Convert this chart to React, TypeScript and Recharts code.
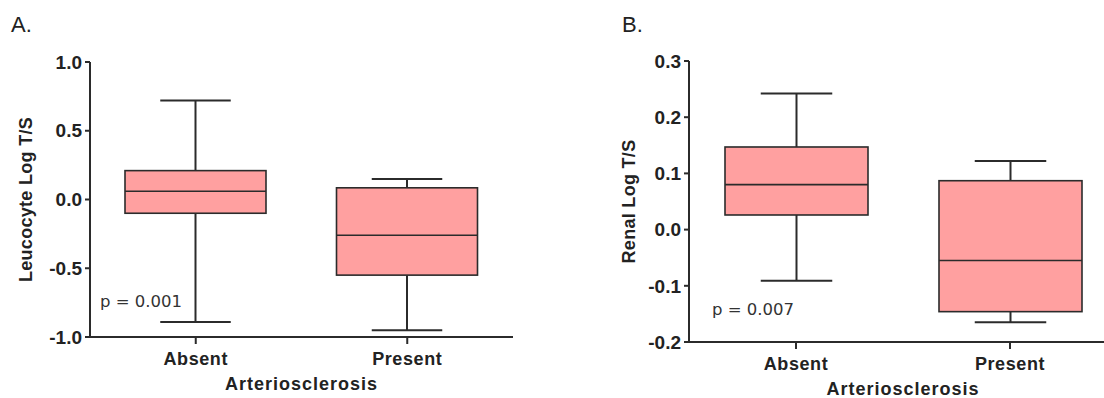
import { ComposedChart, Bar, XAxis, YAxis } from "recharts";

// five-number summaries
const groups = ["Absent", "Present"];

const leucoMin = [-0.89, -0.95];
const leucoQ1 = [-0.1, -0.55];
const leucoMedian = [0.06, -0.26];
const leucoQ3 = [0.21, 0.085];
const leucoMax = [0.72, 0.15];
const leucoTicks = [-1, -0.5, 0, 0.5, 1];

const renalMin = [-0.091, -0.165];
const renalQ1 = [0.026, -0.146];
const renalMedian = [0.08, -0.055];
const renalQ3 = [0.147, 0.087];
const renalMax = [0.242, 0.122];
const renalTicks = [-0.2, -0.1, 0, 0.1, 0.2, 0.3];

const FILL = "#FFA0A0";
const INK = "#2b2b2b";
const FONT = "'Liberation Sans', Arial, sans-serif";

function buildRows(mins: number[], q1: number[], med: number[], q3: number[], maxs: number[]) {
  return groups.map((name, i) => ({
    name,
    box: [q1[i], q3[i]],
    min: mins[i],
    q1: q1[i],
    median: med[i],
    q3: q3[i],
    max: maxs[i],
  }));
}

const leucoRows = buildRows(leucoMin, leucoQ1, leucoMedian, leucoQ3, leucoMax);
const renalRows = buildRows(renalMin, renalQ1, renalMedian, renalQ3, renalMax);

// box + median + whiskers, scaled from the bar geometry recharts gives us
const BoxShape = (props: any) => {
  const { x, y, width, height, payload } = props;
  const top = Math.min(y, y + height);
  const h = Math.abs(height);
  const span = payload.q3 - payload.q1;
  const pxPerUnit = span !== 0 ? h / span : 0;
  const toY = (v: number) => top + (payload.q3 - v) * pxPerUnit;
  const cx = x + width / 2;
  const cap = width / 4;
  const yMax = toY(payload.max);
  const yMin = toY(payload.min);
  const yMed = toY(payload.median);
  return (
    <g>
      <line x1={cx} x2={cx} y1={yMax} y2={top} stroke={INK} strokeWidth={2} />
      <line x1={cx - cap} x2={cx + cap} y1={yMax} y2={yMax} stroke={INK} strokeWidth={2} />
      <line x1={cx} x2={cx} y1={top + h} y2={yMin} stroke={INK} strokeWidth={2} />
      <line x1={cx - cap} x2={cx + cap} y1={yMin} y2={yMin} stroke={INK} strokeWidth={2} />
      <rect x={x} y={top} width={width} height={h} fill={FILL} stroke={INK} strokeWidth={1.6} />
      <line x1={x} x2={x + width} y1={yMed} y2={yMed} stroke={INK} strokeWidth={1.6} />
    </g>
  );
};

const tickStyle = { fontSize: 18, fontWeight: "bold" as const, fill: "#222", fontFamily: FONT };

function BoxPanel({ rows, ticks, domain, yLabel, width, plotLeft, top, bottom, right, barSize, labelOffset }: any) {
  return (
    <ComposedChart
      width={width}
      height={398}
      data={rows}
      margin={{ top, right, bottom: 0, left: 0 }}
      style={{ fontFamily: FONT }}
    >
      <XAxis
        dataKey="name"
        height={398 - bottom}
        axisLine={{ stroke: INK, strokeWidth: 2 }}
        tickLine={{ stroke: INK, strokeWidth: 2 }}
        tickSize={7}
        tickMargin={8}
        tick={{ ...tickStyle, letterSpacing: 0.6 }}
        label={{
          content: ({ viewBox }: any) => (
            <text
              x={viewBox.x + viewBox.width / 2}
              y={viewBox.y + 53}
              textAnchor="middle"
              fontSize={18}
              fontWeight="bold"
              fill="#222"
              letterSpacing={1}
              fontFamily={FONT}
            >
              Arteriosclerosis
            </text>
          ),
        }}
      />
      <YAxis
        width={plotLeft}
        domain={domain}
        ticks={ticks}
        type="number"
        allowDataOverflow
        axisLine={{ stroke: INK, strokeWidth: 2 }}
        tickLine={{ stroke: INK, strokeWidth: 2 }}
        tickSize={5}
        tickMargin={3}
        tick={{ ...tickStyle, fontSize: 19 }}
        tickFormatter={(v: number) => v.toFixed(1)}
        label={{
          content: ({ viewBox }: any) => {
            const lx = viewBox.x + labelOffset;
            const ly = viewBox.y + viewBox.height / 2;
            return (
              <text
                x={lx}
                y={ly}
                transform={`rotate(-90 ${lx} ${ly})`}
                textAnchor="middle"
                fontSize={18}
                fontWeight="bold"
                fill="#222"
                letterSpacing={0.3}
                fontFamily={FONT}
              >
                {yLabel}
              </text>
            );
          },
        }}
      />
      <Bar dataKey="box" barSize={barSize} shape={BoxShape} isAnimationActive={false} />
    </ComposedChart>
  );
}

export default function App() {
  return (
    <div
      style={{
        position: "absolute",
        left: 0,
        top: 0,
        width: 1104,
        height: 398,
        overflow: "hidden",
        background: "#fff",
      }}
    >
      <div style={{ position: "absolute", left: 0, top: 0 }}>
        <BoxPanel
          rows={leucoRows}
          ticks={leucoTicks}
          domain={[-1, 1]}
          yLabel="Leucocyte Log T/S"
          width={552}
          plotLeft={90}
          top={62}
          bottom={337}
          right={39}
          barSize={141}
          labelOffset={32}
        />
      </div>
      <div style={{ position: "absolute", left: 600, top: 0 }}>
        <BoxPanel
          rows={renalRows}
          ticks={renalTicks}
          domain={[-0.2, 0.3]}
          yLabel="Renal Log T/S"
          width={531}
          plotLeft={89}
          top={61}
          bottom={342}
          right={14}
          barSize={143}
          labelOffset={35}
        />
      </div>
      <div style={{ position: "absolute", left: 11, top: 14, fontSize: 22, lineHeight: 1, fontFamily: FONT, color: "#222" }}>
        A.
      </div>
      <div style={{ position: "absolute", left: 622, top: 14, fontSize: 22, lineHeight: 1, fontFamily: FONT, color: "#222" }}>
        B.
      </div>
      <div style={{ position: "absolute", left: 100, top: 294, fontSize: 16.5, lineHeight: 1, fontFamily: "'DejaVu Sans', sans-serif", color: "#333" }}>
        p = 0.001
      </div>
      <div style={{ position: "absolute", left: 712, top: 302, fontSize: 16.5, lineHeight: 1, fontFamily: "'DejaVu Sans', sans-serif", color: "#333" }}>
        p = 0.007
      </div>
    </div>
  );
}
